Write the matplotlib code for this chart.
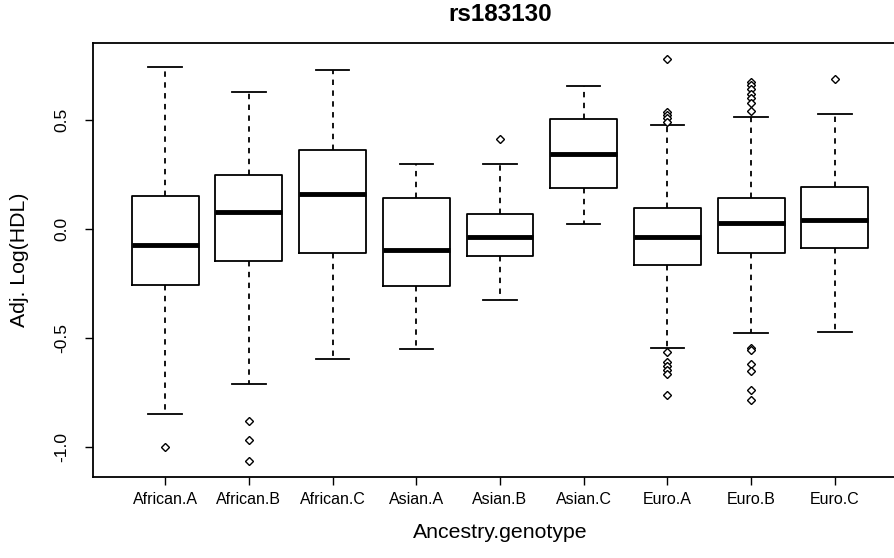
#!/usr/bin/env python3
"""
Boxplot of adjusted log(HDL) by ancestry and genotype for rs183130.
"""

import matplotlib
matplotlib.use('Agg')
import matplotlib.pyplot as plt

plt.rcParams['font.family'] = ['Liberation Sans', 'DejaVu Sans']
plt.rcParams['axes.unicode_minus'] = False

labels = ['African.A', 'African.B', 'African.C', 'Asian.A', 'Asian.B',
          'Asian.C', 'Euro.A', 'Euro.B', 'Euro.C']
med = [-0.073, 0.078, 0.160, -0.098, -0.037, 0.344, -0.037, 0.029, 0.040]
q1 = [-0.257, -0.147, -0.109, -0.260, -0.125, 0.188, -0.164, -0.111, -0.086]
q3 = [0.150, 0.249, 0.364, 0.144, 0.069, 0.503, 0.098, 0.142, 0.194]
whislo = [-0.847, -0.712, -0.598, -0.549, -0.327, 0.024, -0.547, -0.478, -0.472]
whishi = [0.742, 0.630, 0.729, 0.300, 0.300, 0.655, 0.477, 0.515, 0.529]
fliers = [
    [-1.000],
    [-0.881, -0.969, -1.064],
    [],
    [],
    [0.411],
    [],
    [0.778, 0.538, 0.523, 0.508, 0.492,
     -0.563, -0.609, -0.627, -0.647, -0.665, -0.761],
    [0.676, 0.661, 0.641, 0.619, 0.600, 0.577, 0.543,
     -0.547, -0.555, -0.619, -0.650, -0.739, -0.784],
    [0.688],
]
yticks = [-1.0, -0.5, 0.0, 0.5]

stats = []
for i in range(len(labels)):
    stats.append(dict(label=labels[i], med=med[i], q1=q1[i], q3=q3[i],
                      whislo=whislo[i], whishi=whishi[i], fliers=fliers[i]))

fig = plt.figure(figsize=(8.95, 5.58), dpi=100)
# plot region runs slightly past the right edge, like the cropped original
ax = fig.add_axes([93 / 895, 1 - 477 / 558, 814 / 895, 433.7 / 558])

ax.bxp(stats, widths=0.8, showfliers=True,
       boxprops=dict(color='black', linewidth=1.3),
       whiskerprops=dict(color='black', linewidth=1.3, linestyle=(0, (3, 3))),
       capprops=dict(color='black', linewidth=1.3),
       medianprops=dict(color='black', linewidth=3.5, solid_capstyle='butt'),
       flierprops=dict(marker='D', markersize=4.5, markerfacecolor='white',
                       markeredgecolor='black', markeredgewidth=1.0))

n = len(labels)
ax.set_xlim(0.5 - 0.04 * n, n + 0.5 + 0.04 * n)
allv = whislo + whishi + [v for f in fliers for v in f]
lo, hi = min(allv), max(allv)
pad = 0.04 * (hi - lo)
ax.set_ylim(lo - pad, hi + pad)

ax.set_yticks(yticks)
ax.set_yticklabels(['%.1f' % v for v in yticks], rotation=90, va='center')
ax.tick_params(axis='both', direction='out', length=6, width=1.0)
ax.tick_params(axis='x', labelsize=11.5, pad=5)
ax.tick_params(axis='y', labelsize=12.5, pad=11)
for s in ax.spines.values():
    s.set_linewidth(1.3)

ax.set_xlabel('Ancestry.genotype', fontsize=15.3, labelpad=11)
ax.set_ylabel('Adj. Log(HDL)', fontsize=15.3, labelpad=18)
ax.set_title('rs183130', fontsize=17.5, fontweight='bold', pad=16)

fig.savefig('out.png', dpi=100)
